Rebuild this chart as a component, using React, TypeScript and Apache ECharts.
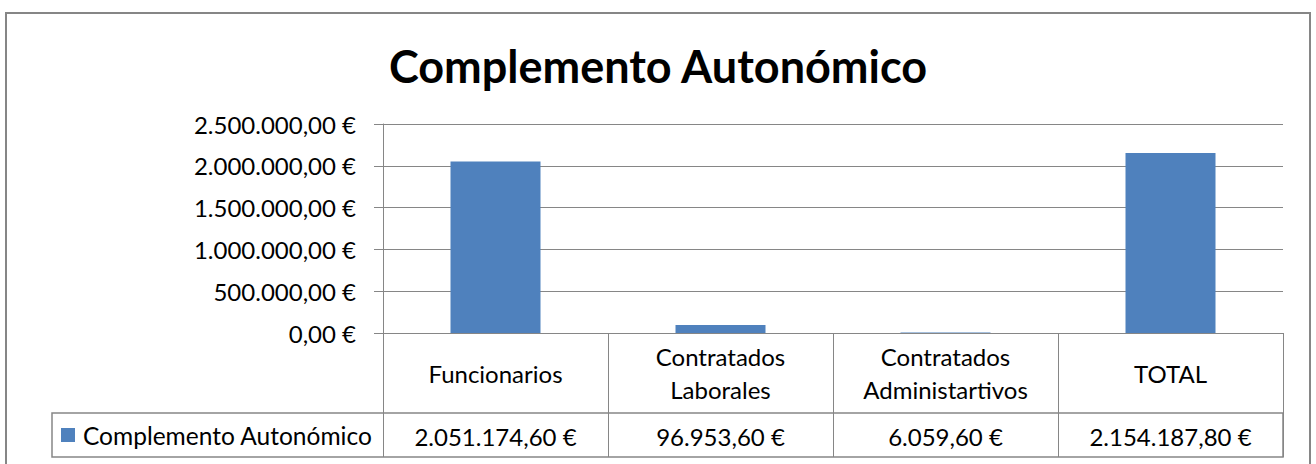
import React, { useEffect, useRef } from "react";
import * as echarts from "echarts";

const chartTitle = "Complemento Autonómico";
const seriesName = "Complemento Autonómico";
const categories = ["Funcionarios", "Contratados\nLaborales", "Contratados\nAdministartivos", "TOTAL"];
const values = [2051174.6, 96953.6, 6059.6, 2154187.8];
const yMin = 0;
const yMax = 2500000;
const yInterval = 500000;

const FONT = "Lato";
const GRAY = "#868686";

function fmtEuro(v: number): string {
  const [i, d] = v.toFixed(2).split(".");
  return i.replace(/\B(?=(\d{3})+(?!\d))/g, ".") + "," + d + " €";
}

export default function App() {
  const ref = useRef<HTMLDivElement>(null);
  useEffect(() => {
    if (!ref.current) return;
    const chart = echarts.init(ref.current, undefined, { renderer: "svg" });
    chart.setOption({
      animation: false,
      backgroundColor: "#ffffff",
      title: {
        text: chartTitle,
        left: "center",
        top: 38,
        textStyle: { fontFamily: FONT, fontSize: 45, fontWeight: "bold", color: "#000" },
      },
      legend: {
        data: [seriesName],
        left: 61,
        top: 421,
        padding: 0,
        icon: "rect",
        itemWidth: 14,
        itemHeight: 14,
        textStyle: { fontFamily: FONT, fontSize: 24.5, color: "#000", padding: [0, 0, 0, 3], lineHeight: 28 },
      },
      grid: { left: 383, right: 33, top: 124, bottom: 131, containLabel: false },
      xAxis: [
        {
          type: "category",
          data: categories,
          axisLine: { show: true, lineStyle: { color: GRAY, width: 1 } },
          axisTick: { show: true, length: 124, interval: 0, lineStyle: { color: GRAY, width: 1 } },
          axisLabel: {
            interval: 0,
            margin: 40,
            verticalAlign: "middle",
            fontFamily: FONT,
            fontSize: 24,
            lineHeight: 33,
            color: "#000",
          },
        },
        {
          type: "category",
          data: categories,
          position: "bottom",
          offset: 80,
          axisLine: { show: false },
          axisTick: { show: false },
          axisLabel: {
            interval: 0,
            margin: 23,
            verticalAlign: "middle",
            fontFamily: FONT,
            fontSize: 24,
            color: "#000",
            formatter: (_v: string, idx: number) => fmtEuro(values[idx]),
          },
        },
      ],
      yAxis: {
        type: "value",
        min: yMin,
        max: yMax,
        interval: yInterval,
        axisLine: { show: true, lineStyle: { color: GRAY, width: 1 } },
        axisTick: { show: true, length: 9, lineStyle: { color: GRAY, width: 1 } },
        splitLine: { show: true, lineStyle: { color: GRAY, width: 1 } },
        axisLabel: {
          margin: 27,
          fontFamily: FONT,
          fontSize: 24,
          color: "#000",
          formatter: (v: number) => fmtEuro(v),
        },
      },
      series: [
        {
          name: seriesName,
          type: "bar",
          data: values,
          barWidth: "40%",
          itemStyle: { color: "#4F81BD" },
        },
      ],
      graphic: [
        {
          type: "rect",
          shape: { x: 6, y: 13, width: 1304, height: 520 },
          style: { fill: "none", stroke: GRAY, lineWidth: 2 },
          silent: true,
          z: 100,
        },
        {
          type: "rect",
          shape: { x: 52, y: 413, width: 1231, height: 44 },
          style: { fill: "none", stroke: GRAY, lineWidth: 1.5 },
          silent: true,
          z: 100,
        },
      ],
    });
    return () => chart.dispose();
  }, []);
  return (
    <div
      ref={ref}
      style={{ position: "fixed", left: 0, top: 0, width: 1316, height: 464, background: "#fff" }}
    />
  );
}
